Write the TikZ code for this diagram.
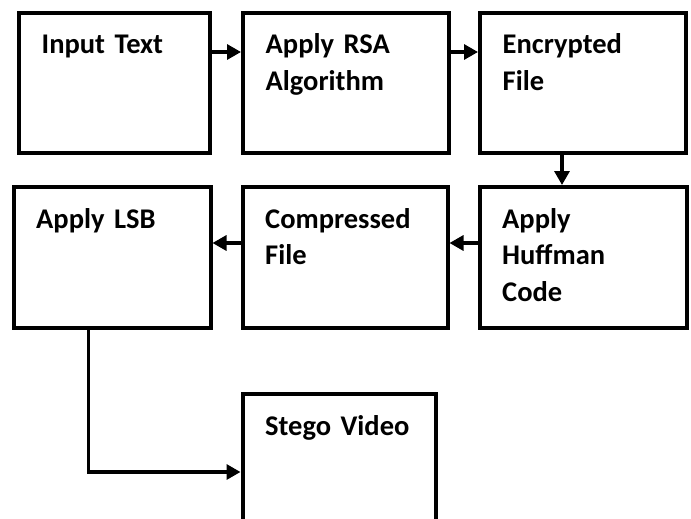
\documentclass[tikz,border=0pt]{standalone}
\usepackage{fontspec}
\setmainfont{Carlito}
\usepackage{tikz}
\usetikzlibrary{arrows.meta, positioning}

\begin{document}
\begin{tikzpicture}[
    x=1pt, y=-1pt,
    stage/.style={rectangle, draw=black, line width=4pt, minimum height=140pt, inner sep=0pt},
    caption/.style={anchor=base west, inner sep=0pt, xshift=24.5pt, yshift=-43pt, text width=175pt, align=left,
        font=\fontsize{28.5}{36.5}\selectfont\bfseries},
    arrow/.style={-{Triangle[length=14pt, width=15pt]}, line width=3.2pt}
]
\useasboundingbox (0,0) rectangle (691,519);

\node[stage, minimum width=191pt, label={[caption]north west:Input Text}] (input) at (114.5,83) {};
\node[stage, minimum width=206pt, right=29pt of input, label={[caption]north west:Apply RSA\\Algorithm}] (rsa) {};
\node[stage, minimum width=206pt, right=27pt of rsa, label={[caption]north west:Encrypted\\File}] (encrypted) {};
\node[stage, minimum width=207pt, minimum height=141pt, below=30pt of encrypted,
    label={[caption]north west:Apply\\Huffman\\Code}] (huffman) {};
\node[stage, minimum width=205pt, minimum height=141pt, left=28pt of huffman,
    label={[caption]north west:Compressed\\File}] (compressed) {};
\node[stage, minimum width=197pt, minimum height=141pt, left=28pt of compressed,
    label={[caption]north west:Apply LSB}] (lsb) {};
\node[stage, minimum width=193pt, minimum height=150pt, below=62pt of compressed.south west, anchor=north west,
    label={[caption]north west:Stego Video}] (stego) {};

\draw[arrow] ([yshift=31pt]input.east) -- ([yshift=31pt]rsa.west);
\draw[arrow] ([yshift=31pt]rsa.east) -- ([yshift=31pt]encrypted.west);
\draw[arrow] ([xshift=-21pt]encrypted.south) -- ([xshift=-21pt]encrypted.south |- huffman.north);
\draw[arrow] ([yshift=14.5pt]huffman.west) -- ([yshift=14.5pt]compressed.east);
\draw[arrow] ([yshift=14.5pt]compressed.west) -- ([yshift=14.5pt]lsb.east);
\draw[arrow] ([xshift=-23.5pt]lsb.south) |- ([yshift=-3pt]stego.west);

\end{tikzpicture}
\end{document}
